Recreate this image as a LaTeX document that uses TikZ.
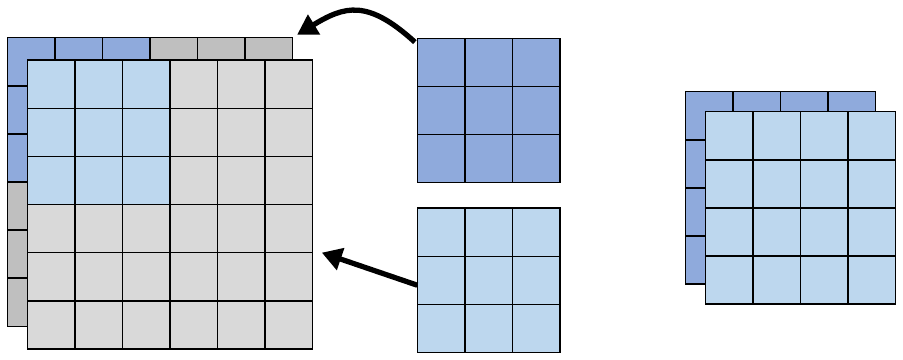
\documentclass[tikz,border=0pt]{standalone}
\usepackage{xcolor}
\usepackage{tikz}
\usetikzlibrary{arrows.meta,calc}
\definecolor{clrKA}{RGB}{143,170,220}
\definecolor{clrKB}{RGB}{189,215,238}
\definecolor{clrPadA}{RGB}{191,191,191}
\definecolor{clrPadB}{RGB}{217,217,217}
\newcommand{\cellw}{1.425cm}
\newcommand{\cellh}{1.443cm}
\tikzset{
  plane/.style={rectangle,draw=black,line width=1.3pt,inner sep=0pt,
    outer sep=0pt,anchor=south west},
  cellline/.style={draw=black,line width=1.3pt},
  arrow/.style={-{Triangle[length=17pt,width=19pt]},line width=4.5pt}
}

\begin{document}
\begin{tikzpicture}[x=1.425cm,y=1.443cm]
  \useasboundingbox (0,0) rectangle (19.011,7.484);

  % padded input, back channel
  \node[plane,fill=clrPadA,minimum width=6*\cellw,minimum height=6*\cellh]
    (padBack) at (0.154,0.700) {};
  \node[plane,fill=clrKA,anchor=north west,
    minimum width=3*\cellw,minimum height=3*\cellh]
    (padBackIn) at (padBack.north west) {};
  \foreach \i in {1,...,5} {
    \draw[cellline] ($(padBack.south west)+(\i,0)$) -- ($(padBack.north west)+(\i,0)$);
    \draw[cellline] ($(padBack.south west)+(0,\i)$) -- ($(padBack.south east)+(0,\i)$);
  }

  % padded input, front channel
  \node[plane,fill=clrPadB,minimum width=6*\cellw,minimum height=6*\cellh]
    (padFront) at (0.575,0.231) {};
  \node[plane,fill=clrKB,anchor=north west,
    minimum width=3*\cellw,minimum height=3*\cellh]
    (padFrontIn) at (padFront.north west) {};
  \foreach \i in {1,...,5} {
    \draw[cellline] ($(padFront.south west)+(\i,0)$) -- ($(padFront.north west)+(\i,0)$);
    \draw[cellline] ($(padFront.south west)+(0,\i)$) -- ($(padFront.south east)+(0,\i)$);
  }

  % kernels
  \node[plane,fill=clrKA,minimum width=3*\cellw,minimum height=3*\cellh]
    (kernA) at (8.785,3.688) {};
  \node[plane,fill=clrKB,minimum width=3*\cellw,minimum height=3*\cellh]
    (kernB) at (8.785,0.154) {};
  \foreach \k in {kernA,kernB}
    \foreach \i in {1,2} {
      \draw[cellline] ($(\k.south west)+(\i,0)$) -- ($(\k.north west)+(\i,0)$);
      \draw[cellline] ($(\k.south west)+(0,\i)$) -- ($(\k.south east)+(0,\i)$);
    }

  % output channels
  \node[plane,fill=clrKA,minimum width=4*\cellw,minimum height=4*\cellh]
    (outBack) at (14.436,1.578) {};
  \foreach \i in {1,2,3} {
    \draw[cellline] ($(outBack.south west)+(\i,0)$) -- ($(outBack.north west)+(\i,0)$);
    \draw[cellline] ($(outBack.south west)+(0,\i)$) -- ($(outBack.south east)+(0,\i)$);
  }
  \node[plane,fill=clrKB,minimum width=4*\cellw,minimum height=4*\cellh]
    (outFront) at (14.857,1.162) {};
  \foreach \i in {1,2,3} {
    \draw[cellline] ($(outFront.south west)+(\i,0)$) -- ($(outFront.north west)+(\i,0)$);
    \draw[cellline] ($(outFront.south west)+(0,\i)$) -- ($(outFront.south east)+(0,\i)$);
  }

  \draw[arrow] ($(kernA.north west)+(-0.05,-0.08)$)
    .. controls +(-1.0,0.9) and +(1.0,0.6) .. ($(padBack.north east)+(0.10,0.06)$);
  \draw[arrow] ($(kernB.west)+(0,-0.1)$) -- ($(padFront.south east)+(0.2,2.0)$);
\end{tikzpicture}
\end{document}
